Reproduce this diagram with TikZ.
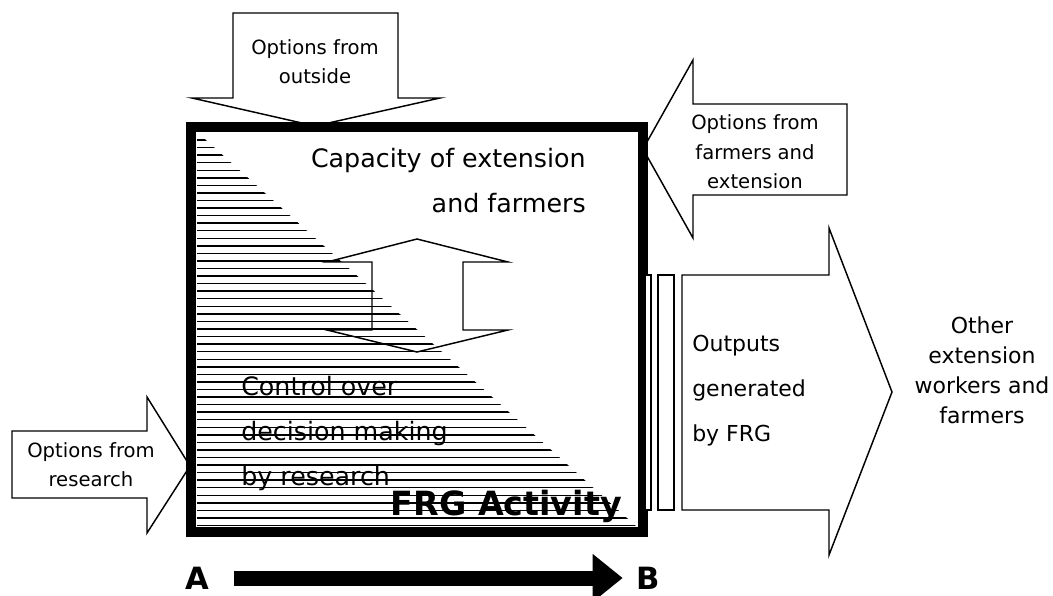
\documentclass[tikz,border=0pt]{standalone}
\usepackage{fontspec}
\setmainfont{DejaVu Sans}
\usetikzlibrary{arrows.meta}

\begin{document}
\begin{tikzpicture}[x=0.75pt, y=-0.75pt,
    blockarrow/.style={draw=black, fill=white, line width=1.1pt, line join=miter},
    optlabel/.style={align=center, inner sep=0pt, font=\fontsize{14.7}{22}\selectfont},
    boxlabel/.style={inner sep=0pt, font=\fontsize{19}{33.75}\selectfont},
    outlabel/.style={inner sep=0pt, font=\fontsize{16.5}{#1}\selectfont},
    endlabel/.style={inner sep=0pt, font=\bfseries\fontsize{23}{27}\selectfont},
    hatch/.style={line width=1.1pt}
]
\useasboundingbox (0,0) rectangle (1053,596);

\begin{scope}
\clip (197,132) -- (197,527) -- (637,527) -- cycle;
\foreach \i in {0,...,51}
    \draw[hatch] (190,140+7.56*\i) -- (650,140+7.56*\i);
\end{scope}

\node[boxlabel, align=right, anchor=east] (capacity) at (586,181) {Capacity of extension\\and farmers};
\node[boxlabel, align=left, anchor=west] (control) at (241,434) {Control over\\decision making\\by research};
\node[inner sep=0pt, font=\bfseries\fontsize{25}{30}\selectfont, anchor=base east] (frg) at (622,515) {FRG Activity};

\draw[line width=1.1pt, line join=miter] (417,239) -- (508,262) -- (463,262) -- (463,330) -- (508,330) -- (417,352)
    -- (327,330) -- (372,330) -- (372,262) -- (327,262) -- cycle;

\draw[blockarrow] (233,13) -- (398,13) -- (398,98) -- (440,98) -- (315,126) -- (192,98) -- (233,98) -- cycle;
\node[optlabel] (outside) at (315,62) {Options from\\outside};

\draw[blockarrow] (847,104) -- (693,104) -- (693,60) -- (643,149) -- (693,238) -- (693,195) -- (847,195) -- cycle;
\node[optlabel] (farmers) at (755,152) {Options from\\farmers and\\extension};

\draw[blockarrow] (12,431) -- (147,431) -- (147,397) -- (190,466) -- (147,533) -- (147,498) -- (12,498) -- cycle;
\node[optlabel] (research) at (91,465) {Options from\\research};

\draw[line width=7.9pt] (191,127) rectangle (643,532);

\draw[blockarrow] (645,275) rectangle (651,510);
\draw[blockarrow] (658,275) rectangle (674,510);
\draw[blockarrow] (682,275) -- (829,275) -- (829,228) -- (892,392) -- (829,555) -- (829,510) -- (682,510) -- cycle;
\node[outlabel=33.75, align=left, anchor=west] (outputs) at (692,391) {Outputs\\generated\\by FRG};
\node[outlabel=22.5, align=center] (others) at (982,370) {Other\\extension\\workers and\\farmers};

\node[endlabel] (A) at (197,578) {A};
\node[endlabel] (B) at (648,578) {B};
\draw[line width=11.25pt, -{Triangle[length=22.5pt, width=34.5pt]}, shorten <=19pt, shorten >=10pt] (A) -- (B);

\end{tikzpicture}
\end{document}
